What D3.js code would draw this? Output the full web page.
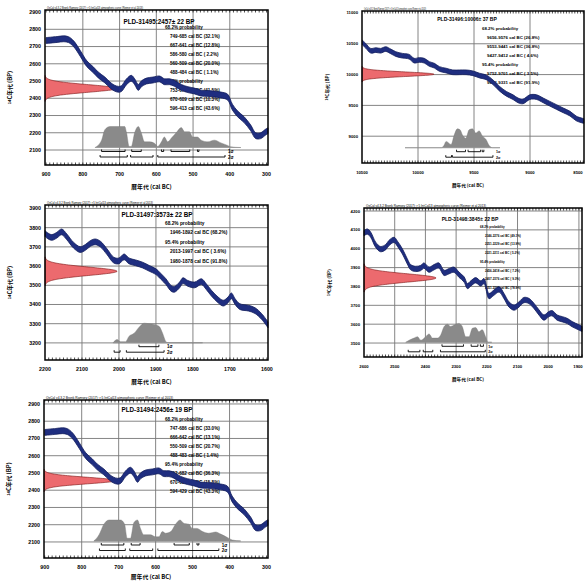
<!DOCTYPE html>
<html><head><meta charset="utf-8">
<script src="https://cdn.jsdelivr.net/npm/d3@7"></script>
<style>body{margin:0;background:#fff}svg{display:block}</style>
</head><body><svg width="585" height="582"></svg>
<script>
// calibration curve, 900-300 cal BC (panels 1 and 5)
var yearsA = [900,870,852,839,825,807,789,771,758,740,726,715,703,695,688,681,668,659,649,641,627,609,591,578,564,551,532,514,496,478,460,442,424,406,393,379,361,343,330,316,303,296];
var bpA    = [2735,2741,2745,2740,2716,2660,2600,2564,2535,2506,2477,2460,2452,2456,2475,2496,2516,2496,2463,2483,2500,2506,2512,2496,2496,2487,2463,2450,2442,2430,2428,2425,2419,2407,2349,2310,2276,2228,2184,2183,2203,2212];
// 10500-8500 cal BC (panel 2)
var yearsB = [10497,10467,10422,10377,10333,10288,10243,10198,10139,10079,10034,9989,9944,9899,9854,9809,9749,9690,9630,9570,9510,9451,9391,9331,9271,9211,9152,9107,9062,9002,8942,8882,8823,8763,8703,8643,8584,8520];
var bpB    = [10521,10468,10387,10398,10387,10414,10376,10333,10306,10290,10226,10237,10226,10172,10145,10091,10065,10037,10037,10037,10021,9984,9956,9876,9769,9688,9634,9581,9565,9634,9634,9581,9527,9473,9419,9366,9285,9247];
// 2200-1600 cal BC (panel 3)
var yearsC = [2200,2195,2182,2168,2155,2141,2123,2105,2091,2077,2064,2050,2032,2014,2000,1986,1973,1955,1936,1918,1900,1886,1873,1859,1850,1836,1827,1814,1795,1777,1764,1750,1732,1718,1705,1696,1686,1673,1650,1632,1614,1597];
var bpC    = [3770,3761,3749,3761,3778,3752,3709,3686,3697,3718,3726,3714,3674,3631,3627,3648,3627,3617,3605,3588,3571,3545,3519,3484,3479,3502,3524,3510,3502,3519,3493,3459,3424,3407,3424,3445,3415,3389,3381,3368,3337,3294];
// 2600-1900 cal BC (panel 4)
var yearsD = [2600,2589,2578,2562,2546,2529,2519,2502,2491,2475,2459,2448,2432,2415,2405,2388,2372,2356,2339,2323,2307,2291,2274,2263,2252,2236,2220,2209,2193,2177,2160,2144,2128,2111,2095,2079,2063,2046,2030,2014,1998,1987,1971,1954,1938,1922,1900,1890];
var bpD    = [4083,4091,4074,4021,3998,4009,4030,4047,4026,3986,3933,3902,3893,3898,3911,3889,3902,3911,3872,3881,3889,3863,3837,3802,3816,3833,3816,3828,3749,3767,3784,3749,3705,3688,3705,3728,3723,3696,3662,3635,3653,3658,3635,3626,3617,3600,3583,3575];

// calibrated probability (relative)
var postYr1 = [767,749,740,726,713,686,681,674,668,659,649,641,632,618,605,596,586,578,569,559,546,532,523,510,501,488,478,460,442,424,406,397,370];
var postP1  = [0,0.35,0.85,1,1,1,0.7,0.05,0.05,0.7,1,0.7,0.27,0.27,0.2,0.05,0.27,0.5,0.27,0.45,0.7,0.95,0.75,0.75,0.5,0.5,0.35,0.27,0.35,0.22,0.1,0.03,0];
var postYr2 = [10116,9790,9769,9749,9704,9677,9648,9624,9603,9573,9544,9514,9484,9454,9424,9394,9364,9335,9268];
var postP2  = [0,0,0.1,0.3,0.15,0.6,0.9,0.85,0.6,0.45,0.85,0.9,0.7,0.8,0.55,0.4,0.1,0,0];
var postYr3 = [2016,2005,1996,1982,1973,1959,1945,1932,1918,1904,1891,1882,1873,1868,1774];
var postP3  = [0,0.15,0.05,0.05,0.3,0.45,0.75,0.93,0.9,0.87,0.77,0.45,0.05,0,0];
var postYr4 = [2464,2453,2437,2426,2415,2399,2388,2377,2361,2350,2339,2328,2318,2307,2291,2280,2269,2258,2247,2236,2226,2215,2204,2196,2184];
var postP4  = [0,0.1,0.2,0.27,0.1,0.27,0.4,0.2,0.2,0.35,0.75,0.86,0.75,0.82,0.9,0.75,0.27,0.27,0.67,0.7,0.5,0.6,0.27,0,0];
var postYr5 = [767,753,740,726,695,684,677,668,659,649,641,632,614,600,591,582,573,559,546,534,523,510,501,488,473,456,438,424,406,393,370];
var postP5  = [0,0.3,0.8,1,1,0.8,0.13,0.13,0.87,1,0.6,0.3,0.3,0.2,0.2,0.45,0.37,0.45,0.8,1,0.83,0.8,0.6,0.6,0.45,0.37,0.43,0.33,0.17,0.05,0];

// ranges [from, to, percent]
var sig1_1 = [[749,685,32.1],[667,641,12.8],[586,580,2.2],[560,509,20.0],[488,484,1.1]];
var sig2_1 = [[753,679,41.5],[670,609,10.3],[596,413,43.6]];
var sig1_2 = [[9656,9576,26.8],[9553,9441,36.8],[9427,9412,4.6]];
var sig2_2 = [[9752,9701,3.5],[9693,9331,91.9]];
var sig1_3 = [[1946,1892,68.2]];
var sig2_3 = [[2013,1997,3.6],[1980,1878,91.8]];
var sig1_4 = [[2346,2276,49.1],[2251,2229,13.9],[2221,2211,5.2]];
var sig2_4 = [[2456,2418,7.2],[2407,2376,9.3],[2351,2205,78.9]];
var sig1_5 = [[747,686,33.0],[666,642,13.1],[550,509,20.7],[488,483,1.4]];
var sig2_5 = [[752,682,36.3],[670,608,15.8],[594,429,43.3]];

var labs  = ["PLD-31495", "PLD-31496", "PLD-31497", "PLD-31498", "PLD-31494"];
var means = [2457, 10006, 3573, 3845, 2456];
var sds   = [22, 37, 22, 22, 19];

var xTicksA = [900,800,700,600,500,400,300];
var xTicksB = [10500,10000,9500,9000,8500];
var xTicksC = [2200,2100,2000,1900,1800,1700,1600];
var xTicksD = [2600,2500,2400,2300,2200,2100,2000,1900];
var yTicksA = [2100,2200,2300,2400,2500,2600,2700,2800,2900];
var yTicksB = [9000,9500,10000,10500,11000];
var yTicksC = [3200,3300,3400,3500,3600,3700,3800,3900];
var yTicksD = [3500,3600,3700,3800,3900,4000,4100,4200];

var note = "OxCal v4.3.2 Bronk Ramsey (2017); r:5 IntCal13 atmospheric curve (Reimer et al 2013)";

var panels = [
  {box:[45,10,268,165], xd:[903,296], yd:[2013,2912], xt:xTicksA, yt:yTicksA, yr:yearsA, bp:bpA, err:17,
   pYr:postYr1, pP:postP1, base:147.5, s1:sig1_1, s2:sig2_1, k:1, ts:4.6, title:[159,22], txt:[165,27], step:9, minor:10, noteW:96},
  {box:[362,11,584,163], xd:[10500,8518], yd:[8565,11032], xt:xTicksB, yt:yTicksB, yr:yearsB, bp:bpB, err:38,
   pYr:postYr2, pP:postP2, base:147.7, s1:sig1_2, s2:sig2_2, k:0.8, ts:4.4, title:[467,19.5], txt:[482,28], step:9, minor:25, noteW:62},
  {box:[45,205,268,360], xd:[2200,1597], yd:[3111,3918], xt:xTicksC, yt:yTicksC, yr:yearsC, bp:bpC, err:15,
   pYr:postYr3, pP:postP3, base:342.7, s1:sig1_3, s2:sig2_3, k:1, ts:4.8, title:[157,215], txt:[165,223], step:9.5, minor:10, noteW:106},
  {box:[364,208,582,357], xd:[2600,1890], yd:[3426,4216], xt:xTicksD, yt:yTicksD, yr:yearsD, bp:bpD, err:14,
   pYr:postYr4, pP:postP4, base:342.3, s1:sig1_4, s2:sig2_4, k:0.8, ts:3.0, title:[470,219], txt:[480,227], step:8.7, minor:10, noteW:120},
  {box:[44,400,268,558], xd:[902,296], yd:[2007,2923], xt:xTicksA, yt:yTicksA, yr:yearsA, bp:bpA, err:17,
   pYr:postYr5, pP:postP5, base:541, s1:sig1_5, s2:sig2_5, k:1, ts:4.6, title:[157,410], txt:[165,419], step:9.1, minor:10, noteW:127}
];

var svg = d3.select("svg");
var sans = "'Liberation Sans', Arial, sans-serif";
var cjk = "'Noto Sans CJK JP', 'Noto Sans', sans-serif";
var W = 585, H = 582;

function fmt(r) {
    var p = r[2] < 10 ? "( " + r[2].toFixed(1) + "%)" : "(" + r[2].toFixed(1) + "%)";
    return r[0] + "-" + r[1] + " cal BC " + p;
}

panels.forEach(function(P, i) {
    var L = P.box[0], T = P.box[1], R = P.box[2], B = P.box[3], k = P.k;
    var x = d3.scaleLinear().domain(P.xd).range([L, R]);
    var y = d3.scaleLinear().domain(P.yd).range([B, T]);
    var pr = d3.scaleLinear().domain([0, 1]).range([P.base, P.base - 21]);
    var dens = d3.scaleLinear().domain([0, 1]).range([L, L + 72]);
    var g = svg.append("g");

    // grid
    g.selectAll(".gx").data(P.xt.filter(function(t) { return x(t) > L + 2 && x(t) < R - 2; }))
        .enter().append("line")
        .attr("x1", x).attr("x2", x).attr("y1", T).attr("y2", B)
        .attr("stroke", "#777").attr("stroke-width", 0.9);
    g.selectAll(".gy").data(P.yt.filter(function(t) { return y(t) > T + 3 && y(t) < B - 2; }))
        .enter().append("line")
        .attr("y1", y).attr("y2", y).attr("x1", L).attr("x2", R)
        .attr("stroke", "#777").attr("stroke-width", 0.9);

    // calibrated distribution
    var post = P.pYr.map(function(d, j) { return {yr: d, p: P.pP[j]}; });
    g.append("path").datum(post)
        .attr("d", d3.area().x(function(d) { return x(d.yr); }).y0(P.base)
            .y1(function(d) { return pr(d.p); }).curve(d3.curveMonotoneX))
        .attr("fill", "#8a8a8a").attr("stroke", "#777").attr("stroke-width", 0.4);
    g.append("line")
        .attr("x1", x(P.pYr[0])).attr("x2", x(P.pYr[P.pYr.length - 1]))
        .attr("y1", P.base).attr("y2", P.base)
        .attr("stroke", "#999").attr("stroke-width", 0.6);

    // range brackets
    [P.s1, P.s2].forEach(function(s, r) {
        var yy = P.base + 4 + r * 5.5;
        g.selectAll(".br" + r).data(s).enter().append("path")
            .attr("d", function(d) {
                return "M" + x(d[0]) + "," + (yy - 2) + "V" + yy + "H" + x(d[1]) + "V" + (yy - 2);
            })
            .attr("fill", "none").attr("stroke", "#000").attr("stroke-width", 0.9);
        var xe = d3.max(P.s2, function(d) { return x(d[1]); }) + 3;
        g.append("text").attr("x", xe).attr("y", yy + 1.5)
            .attr("font-family", sans).attr("font-size", 4.5 * k).attr("font-weight", "bold")
            .text((r + 1) + "σ");
    });

    // probability text
    var lines = ["68.2% probability"].concat(P.s1.map(fmt), ["95.4% probability"], P.s2.map(fmt));
    g.selectAll(".pt").data(lines).enter().append("text")
        .attr("x", function(d) { return /probability/.test(d) ? P.txt[0] : P.txt[0] + 5; })
        .attr("y", function(d, j) { return P.txt[1] + j * P.step; })
        .attr("dy", "0.35em")
        .attr("font-family", sans).attr("font-size", P.ts).attr("font-weight", "bold")
        .text(function(d) { return d; });

    g.append("text").attr("x", P.title[0]).attr("y", P.title[1]).attr("dy", "0.35em")
        .attr("text-anchor", "middle").attr("font-family", sans).attr("font-size", 6.3 * k)
        .attr("font-weight", "bold")
        .text(labs[i] + ":" + means[i] + "\u00b1 " + sds[i] + " BP");

    // radiocarbon date
    var gs = d3.range(-3.4, 3.401, 0.05).map(function(z) { return {bp: means[i] + z * sds[i], d: Math.exp(-z * z / 2)}; });
    g.append("path").datum(gs)
        .attr("d", d3.area().y(function(d) { return y(d.bp); }).x0(L).x1(function(d) { return dens(d.d); }))
        .attr("fill", "#ec6a6e").attr("stroke", "#7a1010").attr("stroke-width", 0.6);

    // calibration curve band
    var cv = P.yr.map(function(d, j) { return {yr: d, bp: P.bp[j]}; });
    g.append("path").datum(cv)
        .attr("d", d3.area().x(function(d) { return x(d.yr); })
            .y0(function(d) { return y(d.bp - P.err); }).y1(function(d) { return y(d.bp + P.err); })
            .curve(d3.curveCatmullRom))
        .attr("fill", "#1f2e80").attr("stroke", "#121d5c").attr("stroke-width", 0.8);

    // frame and ticks
    g.append("rect").attr("x", L).attr("y", T).attr("width", R - L).attr("height", B - T)
        .attr("fill", "none").attr("stroke", "#000").attr("stroke-width", 1.5);
    var mt = d3.range(Math.ceil(Math.min(P.xd[0], P.xd[1]) / P.minor) * P.minor, Math.max(P.xd[0], P.xd[1]), P.minor);
    g.selectAll(".mt").data(mt).enter().append("path")
        .attr("d", function(d) { return "M" + x(d) + "," + T + "v2.5M" + x(d) + "," + B + "v-2.5"; })
        .attr("stroke", "#000").attr("stroke-width", 0.7);

    g.selectAll(".xl").data(P.xt).enter().append("text")
        .attr("x", function(d) { return Math.min(x(d), W - 7); })
        .attr("y", B + 9.5).attr("dy", "0.35em").attr("text-anchor", "middle")
        .attr("font-family", sans).attr("font-size", 5.3 * k).attr("font-weight", "bold")
        .text(function(d) { return d; });
    g.selectAll(".yl").data(P.yt).enter().append("text")
        .attr("x", L - 4).attr("y", y).attr("dy", "0.35em").attr("text-anchor", "end")
        .attr("font-family", sans).attr("font-size", 5.3 * k).attr("font-weight", "bold")
        .text(function(d) { return d; });

    g.append("text").attr("x", L + 2).attr("y", T - 1.5)
        .attr("font-family", sans).attr("font-size", 3.2).attr("textLength", P.noteW)
        .attr("lengthAdjust", "spacingAndGlyphs").text(note);

    g.append("text").attr("x", (L + R) / 2 - 5).attr("y", Math.min(B + 22, H - 5)).attr("dy", "0.35em")
        .attr("text-anchor", "middle").attr("font-family", cjk).attr("font-size", 5.8 * k).attr("font-weight", "bold")
        .text("暦年代 (cal BC)");
    g.append("text").attr("transform", "translate(" + (L - 33) + "," + ((T + B) / 2) + ") rotate(-90)")
        .attr("dy", "0.35em").attr("text-anchor", "middle").attr("font-family", cjk)
        .attr("font-size", 5.8 * k).attr("font-weight", "bold")
        .html("<tspan font-size='" + (4 * k) + "' dy='-1.5'>14</tspan><tspan dy='1.5'>C年代 (BP)</tspan>");
});
</script></body></html>
